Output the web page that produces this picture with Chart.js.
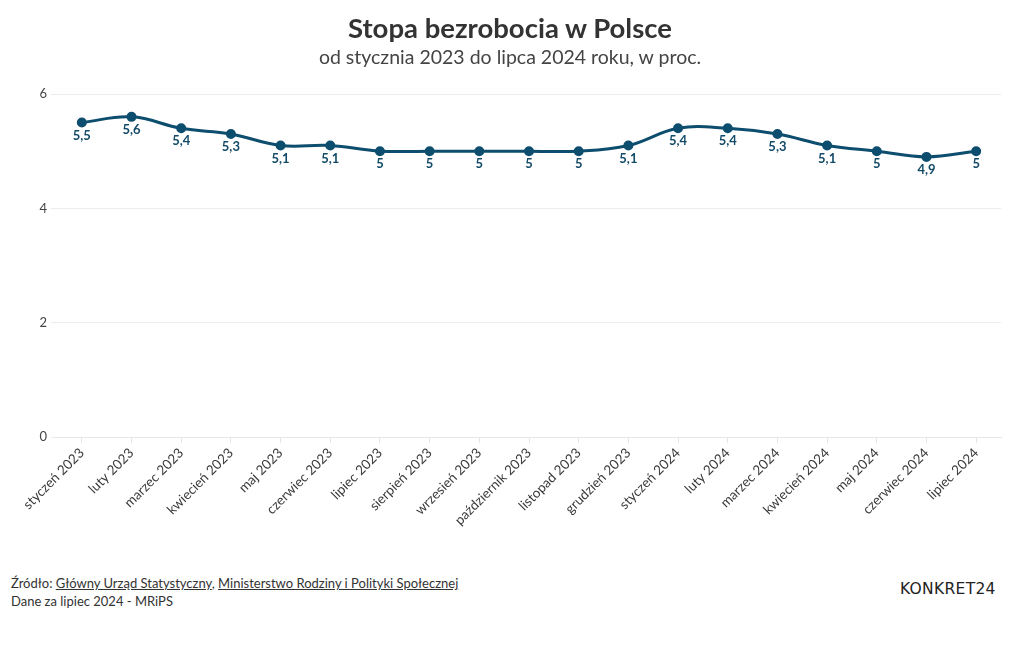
<!DOCTYPE html>
<html>
<head>
<meta charset="utf-8">
<script src="https://cdn.jsdelivr.net/npm/chart.js@4"></script>
<style>
  body { margin: 0; background: #fff; font-family: Lato, "Noto Sans", sans-serif; }
  #wrap { position: relative; width: 1020px; height: 650px; }
  #title { position: absolute; top: 11px; left: 0; width: 1020px; text-align: center; font-size: 27.5px; font-weight: bold; color: #333; }
  #subtitle { position: absolute; top: 45px; left: 0; width: 1020px; text-align: center; font-size: 19.5px; color: #444; }
  #chartBox { position: absolute; top: 0; left: 0; width: 1020px; height: 540px; }
  #footer { position: absolute; top: 574px; left: 11px; font-size: 13px; color: #333; line-height: 18px; }
  #footer a { color: #333; text-decoration: underline; }
  #logo { position: absolute; top: 580px; left: 900px; font-size: 15.5px; letter-spacing: 0.3px; color: #222; font-family: "DejaVu Sans", sans-serif; }
</style>
</head>
<body>
<div id="wrap">
  <div id="chartBox"><canvas id="chart" width="1020" height="540"></canvas></div>
  <div id="title">Stopa bezrobocia w Polsce</div>
  <div id="subtitle">od stycznia 2023 do lipca 2024 roku, w proc.</div>
  <div id="footer">
    Źródło: <a>Główny Urząd Statystyczny</a>, <a>Ministerstwo Rodziny i Polityki Społecznej</a><br>
    Dane za lipiec 2024 - MRiPS
  </div>
  <div id="logo">KONKRET24</div>
</div>
<script>
const months = ['styczeń 2023', 'luty 2023', 'marzec 2023', 'kwiecień 2023', 'maj 2023', 'czerwiec 2023',
  'lipiec 2023', 'sierpień 2023', 'wrzesień 2023', 'październik 2023', 'listopad 2023', 'grudzień 2023',
  'styczeń 2024', 'luty 2024', 'marzec 2024', 'kwiecień 2024', 'maj 2024', 'czerwiec 2024', 'lipiec 2024'];
const rates = [5.5, 5.6, 5.4, 5.3, 5.1, 5.1, 5, 5, 5, 5, 5, 5.1, 5.4, 5.4, 5.3, 5.1, 5, 4.9, 5];
const yTicks = [0, 2, 4, 6];

const lineColor = '#0d4d6e';

// draws the value under every point
const valueLabels = {
  id: 'valueLabels',
  afterDatasetsDraw(chart) {
    const ctx = chart.ctx;
    const meta = chart.getDatasetMeta(0);
    ctx.save();
    ctx.font = 'bold 13px Lato, sans-serif';
    ctx.fillStyle = '#134a68';
    ctx.textAlign = 'center';
    ctx.textBaseline = 'middle';
    meta.data.forEach((pt, i) => {
      const txt = String(rates[i]).replace('.', ',');
      ctx.fillText(txt, pt.x, pt.y + 13);
    });
    ctx.restore();
  }
};

new Chart(document.getElementById('chart'), {
  type: 'line',
  data: {
    labels: months,
    datasets: [{
      data: rates,
      borderColor: lineColor,
      backgroundColor: lineColor,
      borderWidth: 3,
      pointRadius: 3.5,
      pointHoverRadius: 3.5,
      tension: 0.4
    }]
  },
  options: {
    responsive: false,
    animation: false,
    layout: { padding: { top: 94, right: 19, left: 0, bottom: 0 } },
    plugins: { legend: { display: false }, tooltip: { enabled: false } },
    scales: {
      x: {
        offset: true,
        grid: { display: true, drawOnChartArea: false, tickLength: 6, color: '#e6e6e6' },
        border: { color: '#e6e6e6' },
        ticks: {
          color: '#3a3a3a',
          font: { family: 'Lato, sans-serif', size: 13.5 },
          maxRotation: 45,
          minRotation: 45,
          autoSkip: false,
          padding: 2
        },
        afterFit(scale) { scale.height = 103; }
      },
      y: {
        min: 0,
        max: 6,
        afterBuildTicks(scale) { scale.ticks = yTicks.map(v => ({ value: v })); },
        grid: { color: '#ececec', tickLength: 6 },
        border: { display: false },
        ticks: { color: '#444', font: { family: 'Lato, sans-serif', size: 13 }, padding: 4 },
        afterFit(scale) { scale.width = 57; }
      }
    }
  },
  plugins: [valueLabels]
});
</script>
</body>
</html>
